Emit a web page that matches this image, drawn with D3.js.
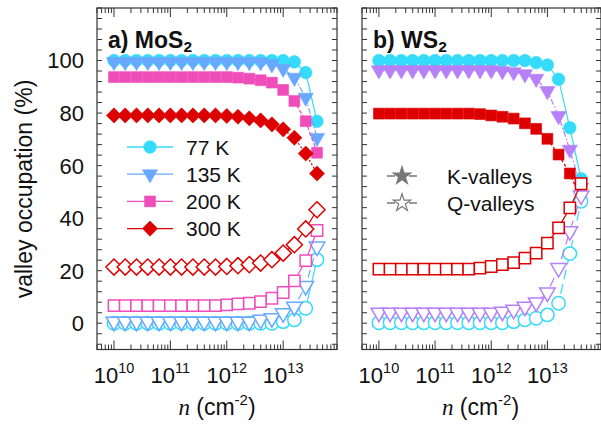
<!DOCTYPE html>
<html><head><meta charset="utf-8">
<script src="https://cdn.jsdelivr.net/npm/d3@7"></script>
<style>body{margin:0;background:#fff} svg text{font-family:"Liberation Sans",Arial,sans-serif;fill:#111}</style>
</head><body><svg id="c" width="601" height="429"></svg>
<script>
// ---- data ----
const nValues = [1e10,1.58e10,2.51e10,3.98e10,6.31e10,1e11,1.58e11,2.51e11,3.98e11,6.31e11,1e12,1.58e12,2.51e12,3.98e12,6.31e12,1e13,1.58e13,2.51e13,3.98e13];
const xTickLabels = [1e10,1e11,1e12,1e13];
const yTickLabels = [0,20,40,60,80,100];
const mos2Temps = ["77 K","135 K","200 K","300 K"];
const valleyNames = ["K-valleys","Q-valleys"];
// MoS2, K-valleys (filled)
const mos2K77  = [100,100,100,100,100,100,100,100,100,100,100,100,100,100,100,100,99.5,95.4,76.9];
const mos2K135 = [99.5,99.5,99.5,99.5,99.5,99.5,99.5,99.5,99.5,99.5,99.5,99.5,99.5,99.4,98.6,96.9,93.5,85.9,70.6];
const mos2K200 = [93.7,93.7,93.7,93.7,93.7,93.7,93.7,93.7,93.7,93.7,93.7,93.5,93.1,92.5,91.6,88.8,84.6,76.9,64.9];
const mos2K300 = [79.1,79.1,79.1,79.1,79.1,79.1,79.1,79.1,79.1,79.1,78.9,78.6,78.0,77.2,75.7,73.8,70.6,64.6,57.0];
// MoS2, Q-valleys (open)
const mos2Q77  = [0,0,0,0,0,0,0,0,0,0,0,0,0,0,0,0.6,1.3,5.7,24.2];
const mos2Q135 = [0.6,0.6,0.6,0.6,0.6,0.6,0.6,0.6,0.6,0.6,0.6,0.6,0.6,1.3,1.9,3.8,6.3,14.2,29.2];
const mos2Q200 = [6.7,6.7,6.7,6.7,6.7,6.7,6.7,6.7,6.7,6.7,7.0,7.4,7.6,8.2,9.5,11.7,16.1,23.8,35.3];
const mos2Q300 = [21.4,21.4,21.4,21.4,21.4,21.4,21.4,21.4,21.4,21.4,21.6,21.9,22.3,22.9,24.2,26.7,29.9,35.9,43.2];
// WS2, K-valleys (filled)
const ws2K77  = [100,100,100,100,100,100,100,100,100,100,100,100,100,100,99.2,98.3,92.9,74.4,55.0];
const ws2K135 = [96.3,96.3,96.3,96.3,96.3,96.3,96.3,96.3,96.3,96.3,96.3,96.0,95.6,94.8,93.1,88.4,78.9,66.1,51.7];
const ws2K300 = [79.8,79.8,79.8,79.8,79.8,79.8,79.8,79.8,79.8,79.6,79.1,78.6,77.9,76.1,74.0,70.2,64.2,57.0,47.2];
// WS2, Q-valleys (open)
const ws2Q77  = [0.2,0.2,0.2,0.2,0.2,0.2,0.2,0.2,0.2,0.2,0.2,0.2,0.6,1.3,1.9,3.2,7.6,26.5,46.4];
const ws2Q135 = [4.0,4.0,4.0,4.0,4.0,4.0,4.0,4.0,4.0,4.0,4.0,4.4,5.1,6.3,7.9,11.7,21.0,35.0,48.6];
const ws2Q300 = [20.6,20.6,20.6,20.6,20.6,20.6,20.6,20.6,20.6,21.0,21.6,22.3,23.1,24.8,26.7,30.5,36.3,43.9,53.1];

// ---- style ----
const C77="#35DBFA", C135="#68A9FF", C200="#EE4DBA", C300="#DD0000", CPUR="#B580F8";
const svg = d3.select("#c");
const y = d3.scaleLinear().domain([-10,120]).range([349.5,8]);
const xa = d3.scaleLog().domain([5e9,9e13]).range([97,337]);
const xb = d3.scaleLog().domain([5e9,9e13]).range([362,601]);

const triDown = {draw(ctx,size){const s=Math.sqrt(size*4/Math.sqrt(3));const h=s*Math.sqrt(3)/2;ctx.moveTo(-s/2,-h/3);ctx.lineTo(s/2,-h/3);ctx.lineTo(0,2*h/3);ctx.closePath();}};
const diamond = {draw(ctx,size){const r=Math.sqrt(size/2);ctx.moveTo(0,-r);ctx.lineTo(r,0);ctx.lineTo(0,r);ctx.lineTo(-r,0);ctx.closePath();}};
const shapes = {circle:[d3.symbolCircle,125,140], tri:[triDown,100,105], square:[d3.symbolSquare,118,128], diamond:[diamond,115,130]};

function frame(x){
  const [x0,x1]=x.range(), [y0,y1]=[349.5,8];
  const g=svg.append("g");
  d3.range(-8,121,4).forEach(v=>{
    const yy=y(v);
    g.append("line").attr("x1",x0).attr("x2",x0+5).attr("y1",yy).attr("y2",yy).attr("stroke","#333");
    g.append("line").attr("x1",x1).attr("x2",x1-5).attr("y1",yy).attr("y2",yy).attr("stroke","#333");
  });
  x.ticks().forEach(v=>{
    const l=Math.log10(v), major=Math.abs(l-Math.round(l))<1e-6, len=major?9:5, xx=x(v);
    g.append("line").attr("x1",xx).attr("x2",xx).attr("y1",y0).attr("y2",y0-len).attr("stroke","#333");
    g.append("line").attr("x1",xx).attr("x2",xx).attr("y1",y1).attr("y2",y1+len).attr("stroke","#333");
  });
  g.append("rect").attr("x",x0).attr("y",y1).attr("width",x1-x0).attr("height",y0-y1).attr("fill","none").attr("stroke","#333").attr("stroke-width",1.2);
  xTickLabels.forEach(v=>{
    const t=g.append("text").attr("x",x(v)).attr("y",383).attr("text-anchor","middle").attr("font-size",22);
    t.append("tspan").text("10");
    t.append("tspan").attr("font-size",14.5).attr("dy",-10).text(Math.round(Math.log10(v)));
  });
  const cx=(x0+x1)/2 - (x0>300?1:0);
  const t=g.append("text").attr("x",cx).attr("y",415).attr("text-anchor","middle").attr("font-size",23);
  t.append("tspan").attr("font-family","Liberation Serif, serif").attr("font-style","italic").text("n");
  t.append("tspan").text(" (cm");
  t.append("tspan").attr("font-size",15).attr("dy",-10).text("-2");
  t.append("tspan").attr("dy",10).text(")");
}

function series(x, vals, color, shape, open, dash){
  const pts = nValues.map((n,i)=>[x(n), y(vals[i])]);
  svg.append("path").attr("d",d3.line()(pts)).attr("fill","none").attr("stroke",color)
     .attr("stroke-width",1.2).attr("stroke-dasharray",dash||null);
  const [type,sf,so]=shapes[shape];
  const sym=d3.symbol().type(type).size(open?so:sf);
  svg.append("g").selectAll("path").data(pts).join("path")
    .attr("transform",d=>`translate(${d[0]},${d[1]})`).attr("d",sym())
    .attr("fill",open?"#fff":color).attr("stroke",color).attr("stroke-width",open?1.5:0.6);
}

frame(xa); frame(xb);

// Panel a
series(xa, mos2Q77, C77, "circle", true, null);
series(xa, mos2Q135, C135, "tri", true, "8,4");
series(xa, mos2Q200, C200, "square", true, null);
series(xa, mos2Q300, C300, "diamond", true, null);
series(xa, mos2K77, C77, "circle", false, null);
series(xa, mos2K135, C135, "tri", false, "6,2,1.5,2");
series(xa, mos2K200, C200, "square", false, "4,2");
series(xa, mos2K300, C300, "diamond", false, "2,2");

// Panel b
series(xb, ws2K77, C77, "circle", false, null);
series(xb, ws2K135, CPUR, "tri", false, "6,2,1.5,2");
series(xb, ws2K300, C300, "square", false, "3,2");
series(xb, ws2Q77, C77, "circle", true, "10,5");
series(xb, ws2Q135, CPUR, "tri", true, "10,5");
series(xb, ws2Q300, C300, "square", true, null);

// y labels
yTickLabels.forEach(v=>{
  svg.append("text").attr("x",84).attr("y",y(v)).attr("dy","0.36em").attr("text-anchor","end").attr("font-size",22).text(v);
});
svg.append("text").attr("transform","translate(32,189) rotate(-90)").attr("text-anchor","middle").attr("font-size",23).text("valley occupation (%)");

// titles
function title(x0, main, sub){
  const t=svg.append("text").attr("x",x0).attr("y",48).attr("font-size",23).attr("font-weight","bold");
  t.append("tspan").text(main);
  t.append("tspan").attr("font-size",15.5).attr("dy",4).text(sub);
}
title(108,"a) MoS","2");
title(373,"b) WS","2");

// legend a
const legCols=[C77,C135,C200,C300], legShapes=["circle","tri","square","diamond"];
mos2Temps.forEach((name,i)=>{
  const yy=147+i*27.2;
  svg.append("line").attr("x1",127).attr("x2",173).attr("y1",yy).attr("y2",yy).attr("stroke",legCols[i]).attr("stroke-width",1.3);
  const [type,sf]=shapes[legShapes[i]];
  svg.append("path").attr("transform",`translate(150,${yy})`).attr("d",d3.symbol().type(type).size(sf)()).attr("fill",legCols[i]).attr("stroke",legCols[i]).attr("stroke-width",0.6);
  svg.append("text").attr("x",186).attr("y",yy).attr("dy","0.36em").attr("font-size",21).text(name);
});
// legend b
valleyNames.forEach((name,i)=>{
  const yy=176+i*27;
  svg.append("line").attr("x1",387).attr("x2",417).attr("y1",yy).attr("y2",yy).attr("stroke","#777").attr("stroke-width",1.5).attr("stroke-dasharray","8,14");
  svg.append("path").attr("transform",`translate(402,${yy})`).attr("d",d3.symbol().type(d3.symbolStar).size(95)())
    .attr("fill",i===0?"#777":"#fff").attr("stroke","#777").attr("stroke-width",1.2);
  svg.append("text").attr("x",447).attr("y",yy).attr("dy","0.36em").attr("font-size",21).text(name);
});
</script></body></html>
